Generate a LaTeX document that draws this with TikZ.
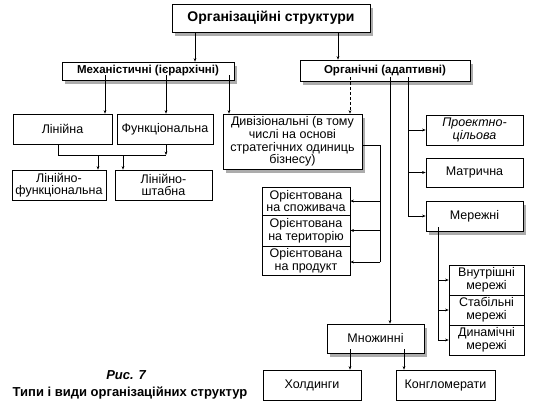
\documentclass[tikz,border=0pt]{standalone}
\usepackage{fontspec}
\setmainfont{Liberation Sans}
\usetikzlibrary{arrows.meta,shadows}
\begin{document}
\begin{tikzpicture}[x=1pt,y=-1pt,
  box/.style={draw,line width=0.7pt,fill=white,inner sep=1pt,align=center,font=\fontsize{12.5}{12.6}\selectfont},
  shbox/.style={box,drop shadow={shadow xshift=3pt,shadow yshift=-4pt,fill=gray!65,opacity=1}},
  ln/.style={line width=0.6pt},
  arr/.style={ln,-{Stealth[length=3.5pt,width=2.8pt]}}]
\useasboundingbox (0,0) rectangle (541,416);
% nodes
\node[shbox,minimum width=198pt,minimum height=28pt,font=\bfseries\fontsize{14}{16}\selectfont] (top) at (271,18) {Організаційні структури};
\node[shbox,minimum width=172pt,minimum height=18pt,font=\bfseries\fontsize{11.5}{13}\selectfont] (mech) at (148,71) {Механістичні (ієрархічні)};
\node[shbox,minimum width=170pt,minimum height=21pt,font=\bfseries\fontsize{11.5}{13}\selectfont] (org) at (385,70.5) {Органічні (адаптивні)};
\node[box,minimum width=99pt,minimum height=30pt] (lin) at (62.5,129) {Лінійна};
\node[box,minimum width=96pt,minimum height=30pt] (fun) at (165,129) {Функціональна};
\node[box,minimum width=94pt,minimum height=30pt] (linf) at (59,185) {Лінійно-\\функціональна};
\node[box,minimum width=97pt,minimum height=30pt] (lins) at (163.5,185) {Лінійно-\\штабна};
\node[shbox,minimum width=139pt,minimum height=55pt] (div) at (292.5,141.5) {Дивізіональні (в тому\\числі на основі\\стратегічних одиниць\\бізнесу)};
\node[box,minimum width=97pt,minimum height=30pt] (proj) at (474.5,130) {\itshape Проектно-\\\itshape цільова};
\node[box,minimum width=97pt,minimum height=29pt] (matr) at (474.5,172.5) {Матрична};
\node[shbox,minimum width=97pt,minimum height=30pt] (mer) at (474.5,216) {Мережні};
\node[box,minimum width=88pt,minimum height=28pt] (or1) at (306,201) {Орієнтована\\на споживача};
\node[box,minimum width=88pt,minimum height=31pt] (or2) at (306,230.5) {Орієнтована\\на територію};
\node[box,minimum width=88pt,minimum height=29pt] (or3) at (306,260.5) {Орієнтована\\на продукт};
\node[box,minimum width=75pt,minimum height=30pt] (vn) at (486.5,280) {Внутрішні\\мережі};
\node[box,minimum width=75pt,minimum height=30pt] (st) at (486.5,310) {Стабільні\\мережі};
\node[box,minimum width=75pt,minimum height=30pt] (dyn) at (486.5,340) {Динамічні\\мережі};
\node[shbox,minimum width=97pt,minimum height=29pt] (mn) at (375.5,338.5) {Множинні};
\node[box,minimum width=98pt,minimum height=30pt] (hold) at (312,385) {Холдинги};
\node[box,minimum width=99pt,minimum height=30pt] (kong) at (445.5,385) {Конгломерати};
\node[font=\bfseries\itshape\fontsize{13}{15}\selectfont] (cap1) at (126,375) {Рис. 7};
\node[font=\bfseries\fontsize{13}{15}\selectfont] (cap2) at (130,393) {Типи і види організаційних структур};
% connectors
\draw[arr] (top.south -| 195,0) -- (195,0 |- mech.north);
\draw[arr] (top.south -| 338,0) -- (338,0 |- org.north);
\draw[arr] ([yshift=5pt]mech.south -| 105,0) -- (105,0 |- lin.north);
\draw[arr] ([yshift=5pt]mech.south -| 166,0) -- (166,0 |- fun.north);
\draw[arr] ([yshift=5pt]mech.south -| 229,0) -- (229,0 |- div.north);
\draw[arr,densely dashed] ([yshift=4pt]org.south -| 350,0) -- (350,0 |- div.north);
\draw[ln] (lin.south -| 58,0) -- (58,155) -- (166,155);
\draw[arr] (fun.south -| 166,0) -- (166,155);
\draw[arr] (98,155) -- (98,0 |- linf.north);
\draw[arr] (123,155) -- (123,0 |- lins.north);
\draw[ln] (div.east |- 0,145) -- (380,145) -- (380,262);
\draw[arr] (380,0 |- or1.east) -- (or1.east);
\draw[arr] (380,0 |- or2.east) -- (or2.east);
\draw[arr] (380,262) -- (or3.east |- 0,262);
\draw[arr] ([yshift=4pt]org.south -| 390,0) -- (390,0 |- mn.north);
\draw[arr] ([yshift=4pt]org.south -| 408,0) |- (mer.west);
\draw[arr] (408,0 |- proj.west) -- (proj.west);
\draw[arr] (408,0 |- matr.west) -- (matr.west);
\draw[arr] ([yshift=4pt]mer.south -| 438,0) |- (dyn.west);
\draw[arr] (438,0 |- vn.west) -- (vn.west);
\draw[arr] (438,0 |- st.west) -- (st.west);
\draw[arr] ([yshift=4pt]mn.south -| 350,0) -- (350,0 |- hold.north);
\draw[arr] ([yshift=4pt]mn.south -| 404,0) -- (404,0 |- kong.north);
\end{tikzpicture}
\end{document}
